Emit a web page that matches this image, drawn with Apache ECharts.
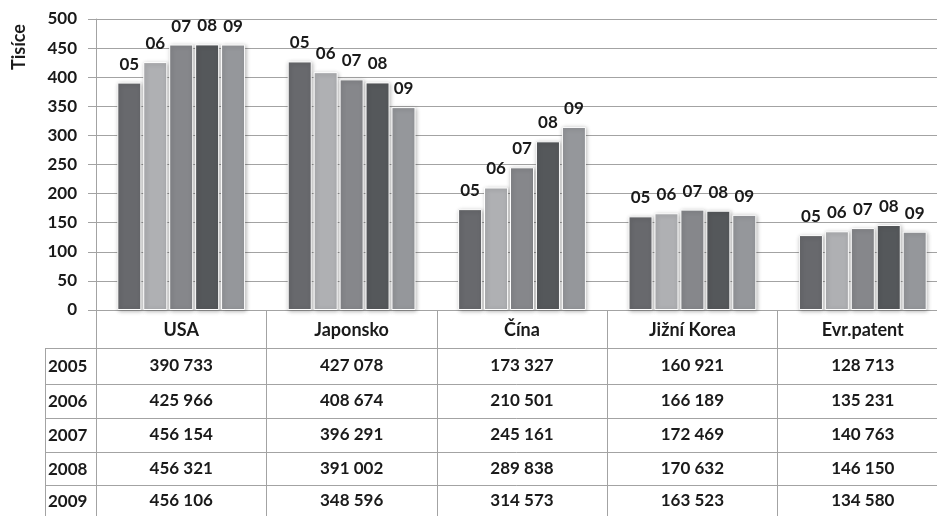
<!DOCTYPE html>
<html>
<head>
<meta charset="utf-8">
<script src="https://cdn.jsdelivr.net/npm/echarts@6/dist/echarts.min.js"></script>
<style>
  html, body { margin: 0; padding: 0; background: #ffffff; }
  #chart { width: 937px; height: 516px; }
</style>
</head>
<body>
<div id="chart"></div>
<script>
// Patent applications by office, 2005–2009 (counts; bars are shown in thousands)
const categories = ['USA', 'Japonsko', 'Čína', 'Jižní Korea', 'Evr.patent'];
const years = ['2005', '2006', '2007', '2008', '2009'];
const yearShort = ['05', '06', '07', '08', '09'];

const values2005 = [390733, 427078, 173327, 160921, 128713];
const values2006 = [425966, 408674, 210501, 166189, 135231];
const values2007 = [456154, 396291, 245161, 172469, 140763];
const values2008 = [456321, 391002, 289838, 170632, 146150];
const values2009 = [456106, 348596, 314573, 163523, 134580];

const yTicks = { min: 0, max: 500, interval: 50 };
const yAxisTitle = 'Tisíce';

const seriesValues = [values2005, values2006, values2007, values2008, values2009];
const barColors = ['#68696d', '#afb0b3', '#86878b', '#55585b', '#95979b'];

// layout of plot and data table
const gridLeft = 96, gridTop = 19, gridWidth = 852, gridHeight = 291;
const rowOffsets = [38, 74, 108, 142, 175];
const rowHeights = [36, 34, 34, 33, 31];
const tableLeft = 45;
const lineColor = '#a3a3a3';
const textColor = '#1a1a1a';
const font = 'Lato, "Open Sans", sans-serif';

function formatThousands(n) {
  const s = String(n);
  return s.slice(0, s.length - 3) + ' ' + s.slice(s.length - 3);
}

const chart = echarts.init(document.getElementById('chart'), null, { renderer: 'canvas' });

const xAxes = [{
  type: 'category',
  gridIndex: 0,
  data: categories,
  position: 'bottom',
  axisLine: { show: true, lineStyle: { color: lineColor, width: 1 } },
  axisTick: { show: true, interval: 0, length: 206, lineStyle: { color: lineColor, width: 1 } },
  axisLabel: {
    interval: 0, margin: 20, verticalAlign: 'middle',
    color: textColor, fontFamily: font, fontWeight: 'bold', fontSize: 18
  },
  splitLine: { show: false }
}];

// one hidden-tick axis per table row: its line is the row's top border, its labels the row's cells
years.forEach((y, i) => {
  xAxes.push({
    type: 'category',
    gridIndex: 0,
    data: seriesValues[i].map(formatThousands),
    position: 'bottom',
    offset: rowOffsets[i],
    axisLine: { show: true, lineStyle: { color: lineColor, width: 1 } },
    axisTick: { show: false },
    axisLabel: {
      interval: 0, margin: rowHeights[i] / 2, verticalAlign: 'middle',
      color: textColor, fontFamily: font, fontWeight: 'bold', fontSize: 17
    },
    splitLine: { show: false }
  });
});

const series = years.map((y, i) => ({
  name: y,
  type: 'bar',
  xAxisIndex: 0,
  yAxisIndex: 0,
  data: seriesValues[i].map(v => v / 1000),
  barGap: '8%',
  barCategoryGap: '25%',
  itemStyle: {
    color: barColors[i],
    borderColor: '#ffffff',
    borderWidth: 1,
    shadowColor: 'rgba(0,0,0,0.28)',
    shadowBlur: 4,
    shadowOffsetX: 1,
    shadowOffsetY: 1
  },
  label: {
    show: true,
    position: 'top',
    distance: 10,
    formatter: () => yearShort[i],
    color: textColor,
    fontFamily: font,
    fontWeight: 'bold',
    fontSize: 17
  },
  emphasis: { disabled: true }
}));

// year column of the table: borders and row headers
const tableBottom = 516;
const axisBottom = gridTop + gridHeight;
const yearColumn = [];
rowOffsets.forEach((off, i) => {
  yearColumn.push({
    type: 'line',
    shape: { x1: tableLeft, y1: axisBottom + off + 0.5, x2: gridLeft, y2: axisBottom + off + 0.5 },
    style: { stroke: lineColor, lineWidth: 1 },
    silent: true
  });
  yearColumn.push({
    type: 'text',
    x: tableLeft + 3,
    y: axisBottom + off + rowHeights[i] / 2 + 1,
    style: {
      text: years[i],
      fill: textColor,
      font: 'bold 17px ' + font,
      textAlign: 'left',
      textVerticalAlign: 'middle'
    },
    silent: true
  });
});
yearColumn.push({
  type: 'line',
  shape: { x1: tableLeft + 0.5, y1: axisBottom + rowOffsets[0], x2: tableLeft + 0.5, y2: tableBottom },
  style: { stroke: lineColor, lineWidth: 1 },
  silent: true
});

chart.setOption({
  animation: false,
  backgroundColor: '#ffffff',
  textStyle: { fontFamily: font },
  grid: {
    left: gridLeft, top: gridTop, width: gridWidth, height: gridHeight,
    containLabel: false, outerBoundsMode: 'none'
  },
  xAxis: xAxes,
  yAxis: {
    type: 'value',
    min: yTicks.min, max: yTicks.max, interval: yTicks.interval,
    axisLine: { show: true, lineStyle: { color: lineColor, width: 1 } },
    axisTick: { show: true, length: 8, lineStyle: { color: lineColor } },
    axisLabel: { margin: 19, color: textColor, fontFamily: font, fontWeight: 'bold', fontSize: 17 },
    splitLine: { show: true, lineStyle: { color: lineColor, width: 1 } }
  },
  series: series,
  graphic: yearColumn.concat([{
    type: 'text',
    x: 19,
    y: 47,
    rotation: Math.PI / 2,
    style: {
      text: yAxisTitle,
      fill: textColor,
      font: 'bold 18px ' + font,
      textAlign: 'center',
      textVerticalAlign: 'middle'
    },
    silent: true
  }])
});
</script>
</body>
</html>
